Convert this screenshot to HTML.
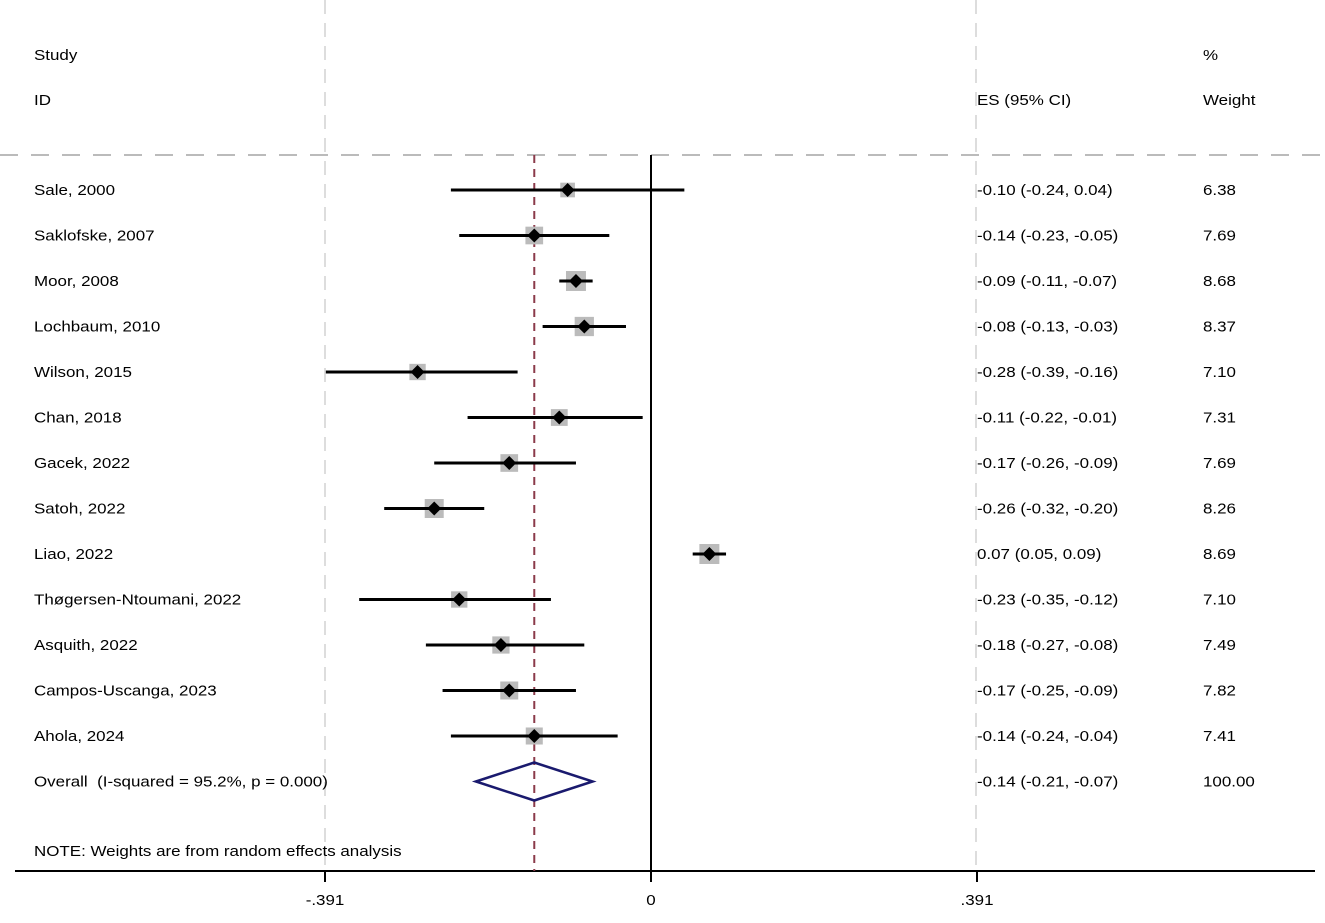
<!DOCTYPE html>
<html><head><meta charset="utf-8"><style>
body{margin:0;background:#fff}
svg text{font-family:"Liberation Sans",Arial,sans-serif;font-size:15px;fill:#000}
</style></head><body>
<svg id="chart" width="1325" height="918" viewBox="0 0 1325 918" xmlns="http://www.w3.org/2000/svg">
<g id="static">
<line x1="325" y1="0" x2="325" y2="870" stroke="#ddd" stroke-width="2" stroke-dasharray="14,9"/>
<line x1="976" y1="0" x2="976" y2="870" stroke="#ddd" stroke-width="2" stroke-dasharray="14,9"/>
<line x1="0" y1="155" x2="1325" y2="155" stroke="#bbb" stroke-width="2" stroke-dasharray="18,13"/>
<text transform="translate(34,60) scale(1.13,1)">Study</text>
<text transform="translate(34,105) scale(1.13,1)">ID</text>
<text transform="translate(977,105) scale(1.13,1)">ES (95% CI)</text>
<text transform="translate(1203,60) scale(1.13,1)">%</text>
<text transform="translate(1203,105) scale(1.13,1)">Weight</text>
<text transform="translate(34,856) scale(1.13,1)">NOTE: Weights are from random effects analysis</text>
<line x1="15" y1="871" x2="1315" y2="871" stroke="#000" stroke-width="2"/>
</g>
<g id="marks"></g>
</svg>
<script>
const studies=["Sale, 2000","Saklofske, 2007","Moor, 2008","Lochbaum, 2010","Wilson, 2015","Chan, 2018","Gacek, 2022","Satoh, 2022","Liao, 2022","Thøgersen-Ntoumani, 2022","Asquith, 2022","Campos-Uscanga, 2023","Ahola, 2024"];
const es=[-0.10,-0.14,-0.09,-0.08,-0.28,-0.11,-0.17,-0.26,0.07,-0.23,-0.18,-0.17,-0.14];
const lo=[-0.24,-0.23,-0.11,-0.13,-0.39,-0.22,-0.26,-0.32,0.05,-0.35,-0.27,-0.25,-0.24];
const hi=[0.04,-0.05,-0.07,-0.03,-0.16,-0.01,-0.09,-0.20,0.09,-0.12,-0.08,-0.09,-0.04];
const weights=[6.38,7.69,8.68,8.37,7.10,7.31,7.69,8.26,8.69,7.10,7.49,7.82,7.41];
const overall=[-0.14,-0.21,-0.07];
const overallLabel="Overall  (I-squared = 95.2%, p = 0.000)";
const tickValues=[-0.391,0,0.391];
const tickLabels=["-.391","0",".391"];
const NS="http://www.w3.org/2000/svg";
const xs=v=>651+v*(326/0.391);
const ys=i=>190+i*45.5;
const g=document.getElementById('marks');
function mk(t,a){const e=document.createElementNS(NS,t);for(const k in a)e.setAttribute(k,a[k]);g.appendChild(e);return e;}
function tx(x,y,s,anchor){const e=mk('text',{transform:`translate(${x},${y}) scale(1.13,1)`});if(anchor)e.setAttribute('text-anchor',anchor);e.textContent=s;return e;}
const f=v=>(v<0?"-":"")+Math.abs(v).toFixed(2);
let e=mk('line',{x1:xs(0),y1:155,x2:xs(0),y2:871,stroke:'#000','stroke-width':2});


e=mk('line',{x1:xs(overall[0]),y1:155,x2:xs(overall[0]),y2:871,stroke:'#8b3a4a','stroke-width':2,'stroke-dasharray':'8,6'});


tickValues.forEach((v,i)=>{
 let t=mk('line',{x1:xs(v),y1:871,x2:xs(v),y2:882,stroke:'#000','stroke-width':2});
 
 
 let l=tx(xs(v),905,tickLabels[i],'middle');
 
 
});
studies.forEach((s,i)=>{
 const y=ys(i);
 let t=tx(34,y+5,s);
 
 
 let sz=weights[i]*2.3;
 let r=mk('rect',{x:xs(es[i])-sz/2,y:y-sz/2,width:sz,height:sz,fill:'#bbb'});
 
 
 let c=mk('line',{x1:xs(lo[i]),y1:y,x2:xs(hi[i]),y2:y,stroke:'#000','stroke-width':3});
 
 
 let x=xs(es[i]);
 let d=mk('polygon',{points:`${x-7},${y} ${x},${y-7} ${x+7},${y} ${x},${y+7}`,fill:'#000'});
 
 
 let t2=tx(977,y+5,`${f(es[i])} (${f(lo[i])}, ${f(hi[i])})`);
 
 
 let t3=tx(1203,y+5,weights[i].toFixed(2));
 
 
});
const oy=ys(studies.length);
let ol=tx(34,oy+5,overallLabel);


ol.setAttribute('xml:space','preserve');
ol.style.whiteSpace='pre';
let od=mk('polygon',{points:`${xs(overall[1])},${oy} ${xs(overall[0])},${oy-19} ${xs(overall[2])},${oy} ${xs(overall[0])},${oy+19}`,fill:'none',stroke:'#1a1a6e','stroke-width':2.5});


let oe=tx(977,oy+5,`${f(overall[0])} (${f(overall[1])}, ${f(overall[2])})`);


let ow=tx(1203,oy+5,"100.00");


</script>
</body></html>
